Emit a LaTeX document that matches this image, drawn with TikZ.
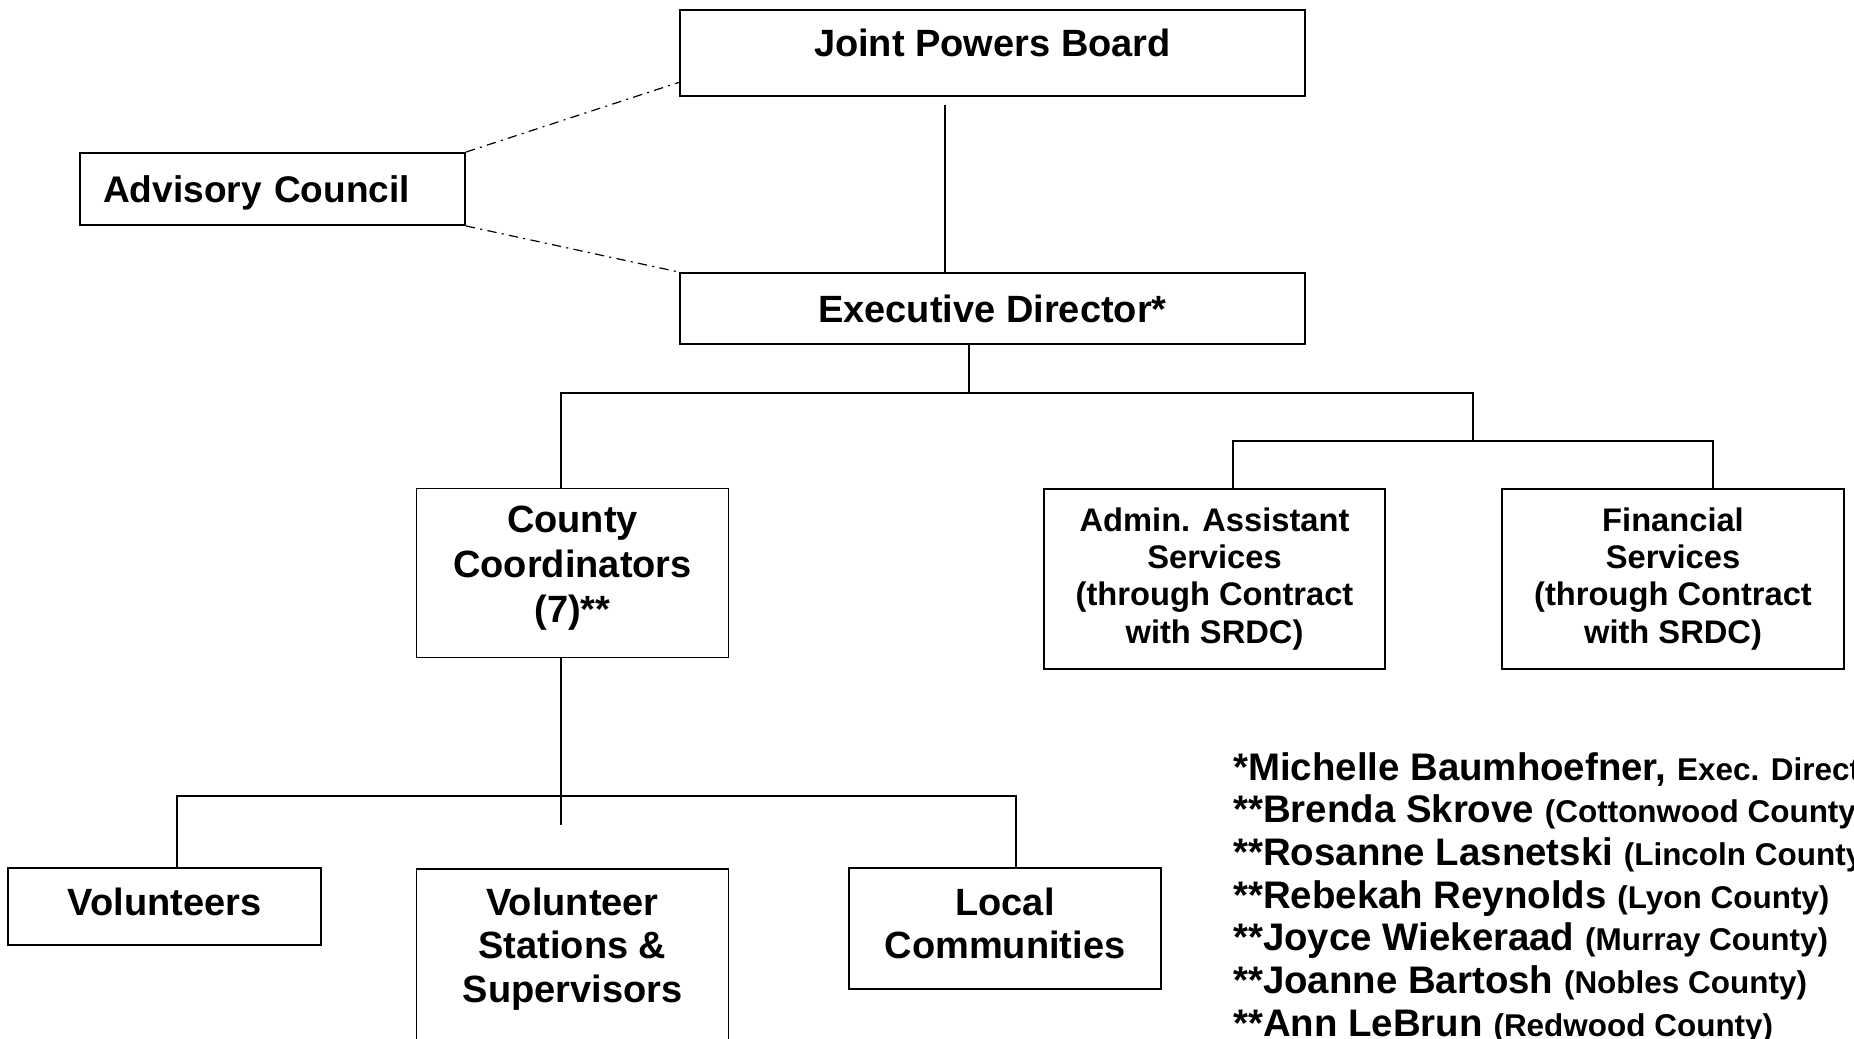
\documentclass[tikz,border=0pt]{standalone}
\usepackage{fontspec}
\setmainfont{Liberation Sans}
\usepackage{tikz}
\usetikzlibrary{calc}
\usetikzlibrary{positioning}

\newcommand{\boxfont}{\fontsize{28.5}{32.7}\selectfont\bfseries}
\newcommand{\svcfont}{\fontsize{24.5}{27.8}\selectfont\bfseries}
\newcommand{\namefont}{\fontsize{28.8}{32}\selectfont\bfseries}
\newcommand{\cntyfont}{\fontsize{23.6}{28}\selectfont\bfseries}

\tikzset{
  orgbox/.style={rectangle, draw=black, line width=1.4pt, inner sep=0pt, align=center, font=\boxfont},
  link/.style={draw=black, line width=1.1pt},
  advlink/.style={draw=black, line width=0.9pt, dash pattern=on 7pt off 4pt on 1.5pt off 4pt}
}

\begin{document}
\begin{tikzpicture}[x=0.75pt, y=-0.75pt]
\useasboundingbox (0,0) rectangle (1854,1039);
\clip (0,0) rectangle (1854,1039);

% boxes
\node [orgbox, minimum width=468.75pt, minimum height=64.5pt, text depth=15pt] (JPB) at (992.5, 53) {Joint Powers Board};
\node [orgbox, minimum width=468.75pt, minimum height=53.25pt, text depth=0pt] (ED) at (992.5, 308.5) {Executive Director*};
\node [orgbox, font=\fontsize{27.8}{32}\selectfont\bfseries, minimum width=288.75pt, minimum height=54pt, text depth=0pt, inner xsep=17pt, text width=254pt, align=left] (AC) at (272.5, 189) {Advisory Council};
\node [orgbox, font=\fontsize{28.5}{33.6}\selectfont\bfseries, minimum width=234pt, minimum height=126.75pt, text depth=13pt] (CC) at (572.5, 573) {County\\Coordinators\\(7)**};
\node [orgbox, font=\svcfont, minimum width=255.75pt, minimum height=135pt] (AD) at (1214.5, 579) {Admin. Assistant\\Services\\(through Contract\\with SRDC)};
\node [orgbox, font=\svcfont, minimum width=256.5pt, minimum height=135pt] (FN) at (1673, 579) {Financial\\Services\\(through Contract\\with SRDC)};
\node [orgbox, minimum width=234.75pt, minimum height=57.75pt, text depth=7pt] (VO) at (164.5, 906.5) {Volunteers};
\node [orgbox, minimum width=234pt, minimum height=150pt, anchor=north] (VSB) at (572.5, 868) {};
\node [font=\boxfont, align=center, inner sep=0pt] (VS) at (572.5, 949) {Volunteer\\Stations \&\\Supervisors};
\node [orgbox, minimum width=234pt, minimum height=90.75pt, text depth=8pt] (LC) at (1005, 928.5) {Local\\Communities};

% junction points
\coordinate (JPBstem) at (945, 105);
\coordinate (JPBdash) at (680, 82);
\coordinate (EDjoin) at (969, 393);
\coordinate (CCjoin) at (561, 393);
\coordinate (SVjoin) at (1473, 393);
\coordinate (SVsplit) at (1473, 441);
\coordinate (ADjoin) at (1233, 441);
\coordinate (FNjoin) at (1713, 441);
\coordinate (CCend) at (561, 825);
\coordinate (VOjoin) at (177, 796);
\coordinate (LCjoin) at (1016, 796);

% connectors
\draw [link] (JPBstem) -- (JPBstem |- ED.north);
\draw [link] (EDjoin |- ED.south) -- (EDjoin);
\draw [link] (CC.north -| CCjoin) -- (CCjoin) -- (SVjoin) -- (SVsplit);
\draw [link] (AD.north -| ADjoin) -- (ADjoin) -- (FNjoin) -- (FN.north -| FNjoin);
\draw [link] (CC.south -| CCend) -- (CCend);
\draw [link] (VO.north -| VOjoin) -- (VOjoin) -- (LCjoin) -- (LC.north -| LCjoin);
\draw [advlink] (AC.north east) -- (JPBdash);
\draw [advlink] (AC.south east) -- (ED.north west);

% notes
\foreach \i/\who/\what in {0/{*Michelle Baumhoefner,}/{Exec. Director},
    1/{**Brenda Skrove}/{(Cottonwood County)},
    2/{**Rosanne Lasnetski}/{(Lincoln County)},
    3/{**Rebekah Reynolds}/{(Lyon County)},
    4/{**Joyce Wiekeraad}/{(Murray County)},
    5/{**Joanne Bartosh}/{(Nobles County)},
    6/{**Ann LeBrun}/{(Redwood County)}}
  \node [anchor=base west, inner sep=0pt] (note\i) at (1233, {780+42.7*\i}) {\namefont\who\ \cntyfont\what};
\end{tikzpicture}
\end{document}
